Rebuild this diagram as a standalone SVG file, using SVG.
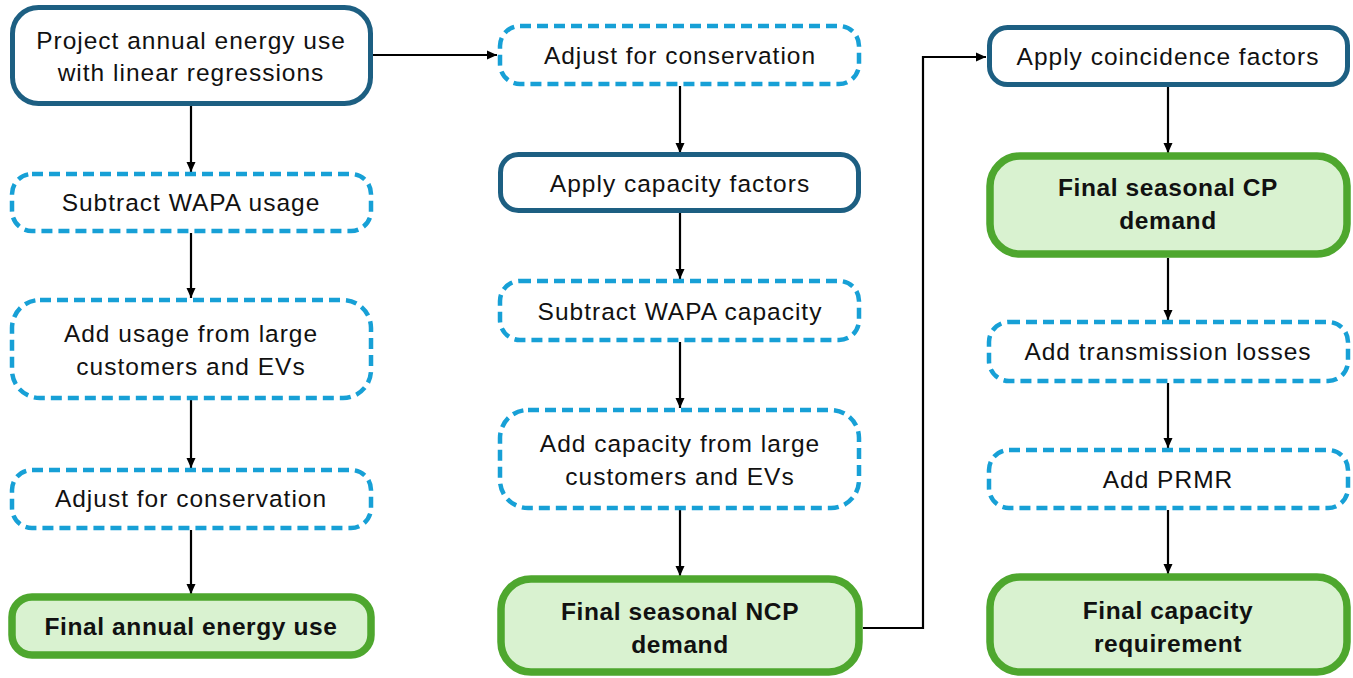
<svg xmlns="http://www.w3.org/2000/svg" width="1353" height="678" viewBox="0 0 1353 678">
<style>
.solid{fill:#fff;stroke:#1d5f82;stroke-width:5}
.dash{fill:#fff;stroke:#17a0d6;stroke-width:4.5;stroke-dasharray:11 6}
.final{fill:#d9f2d0;stroke:#4ea72e;stroke-width:7.5}
.t{font-family:"Liberation Sans",Arial,sans-serif;font-size:24.5px;letter-spacing:1px;fill:#111;text-anchor:middle;dominant-baseline:central}
.b{font-weight:bold;letter-spacing:0.6px}
.c{fill:none;stroke:#000;stroke-width:2.2}
</style>
<defs>
<marker id="ah" viewBox="0 0 10 10" refX="10" refY="5" markerWidth="10" markerHeight="10" markerUnits="userSpaceOnUse" orient="auto">
<path d="M0,0.5 L10,5 L0,9.5 z" fill="#000"/>
</marker>
</defs>
<g id="connectors">
<path class="c" d="M373,55 H497" marker-end="url(#ah)"/>
<path class="c" d="M191,106 V172" marker-end="url(#ah)"/>
<path class="c" d="M191,233 V298" marker-end="url(#ah)"/>
<path class="c" d="M191,400 V468" marker-end="url(#ah)"/>
<path class="c" d="M191,530 V594" marker-end="url(#ah)"/>
<path class="c" d="M680,86 V153" marker-end="url(#ah)"/>
<path class="c" d="M680,212 V279" marker-end="url(#ah)"/>
<path class="c" d="M680,342 V408" marker-end="url(#ah)"/>
<path class="c" d="M680,510 V576" marker-end="url(#ah)"/>
<path class="c" d="M863,628 H923 V57 H986" marker-end="url(#ah)"/>
<path class="c" d="M1168,86 V153" marker-end="url(#ah)"/>
<path class="c" d="M1168,258 V320" marker-end="url(#ah)"/>
<path class="c" d="M1168,383 V448" marker-end="url(#ah)"/>
<path class="c" d="M1168,510 V574" marker-end="url(#ah)"/>
</g>
<g id="n1"><rect class="solid" x="12.5" y="7.5" width="358" height="96" rx="26"/><text class="t" x="191" y="40">Project annual energy use</text><text class="t" x="191" y="72">with linear regressions</text></g>
<g id="n2"><rect class="dash" x="12" y="174" width="359" height="57" rx="20"/><text class="t" x="191" y="202">Subtract WAPA usage</text></g>
<g id="n3"><rect class="dash" x="12" y="300" width="359" height="98" rx="28"/><text class="t" x="191" y="333">Add usage from large</text><text class="t" x="191" y="366">customers and EVs</text></g>
<g id="n4"><rect class="dash" x="12" y="470" width="359" height="58" rx="20"/><text class="t" x="191" y="498">Adjust for conservation</text></g>
<g id="n5"><rect class="final" x="12" y="597" width="359" height="58" rx="20"/><text class="t b" x="191" y="626">Final annual energy use</text></g>
<g id="n6"><rect class="dash" x="500" y="26" width="359" height="58" rx="20"/><text class="t" x="680" y="55">Adjust for conservation</text></g>
<g id="n7"><rect class="solid" x="500.5" y="154.5" width="358" height="56" rx="18"/><text class="t" x="680" y="183">Apply capacity factors</text></g>
<g id="n8"><rect class="dash" x="500" y="281" width="359" height="59" rx="20"/><text class="t" x="680" y="311">Subtract WAPA capacity</text></g>
<g id="n9"><rect class="dash" x="500" y="410" width="359" height="98" rx="28"/><text class="t" x="680" y="443">Add capacity from large</text><text class="t" x="680" y="476">customers and EVs</text></g>
<g id="n10"><rect class="final" x="501" y="579" width="358" height="93" rx="30"/><text class="t b" x="680" y="611">Final seasonal NCP</text><text class="t b" x="680" y="644">demand</text></g>
<g id="n11"><rect class="solid" x="989.5" y="27.5" width="358" height="57" rx="18"/><text class="t" x="1168" y="56">Apply coincidence factors</text></g>
<g id="n12"><rect class="final" x="990" y="156" width="357" height="98" rx="30"/><text class="t b" x="1168" y="187">Final seasonal CP</text><text class="t b" x="1168" y="220">demand</text></g>
<g id="n13"><rect class="dash" x="989" y="322" width="359" height="59" rx="20"/><text class="t" x="1168" y="351">Add transmission losses</text></g>
<g id="n14"><rect class="dash" x="989" y="450" width="359" height="58" rx="20"/><text class="t" x="1168" y="479">Add PRMR</text></g>
<g id="n15"><rect class="final" x="990" y="577" width="357" height="95" rx="30"/><text class="t b" x="1168" y="610">Final capacity</text><text class="t b" x="1168" y="643">requirement</text></g>
</svg>
